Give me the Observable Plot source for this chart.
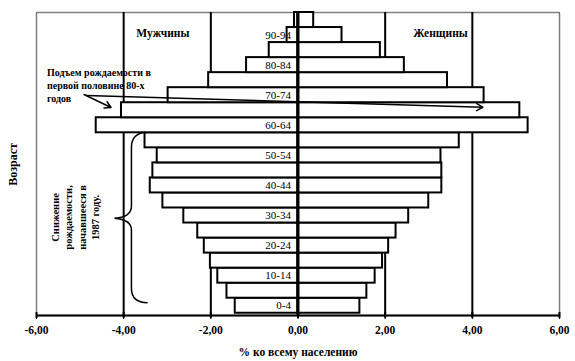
<!DOCTYPE html>
<html>
<head>
<meta charset="utf-8">
<script src="https://cdn.jsdelivr.net/npm/d3@7"></script>
<script src="https://cdn.jsdelivr.net/npm/@observablehq/plot@0.6"></script>
<style>
  html, body { margin: 0; padding: 0; background: #fff; }
</style>
</head>
<body>
<div id="chart"></div>
<script>
// Age groups from the youngest (bottom) to the oldest (top)
const ages = ["0-4","5-9","10-14","15-19","20-24","25-29","30-34","35-39","40-44","45-49",
              "50-54","55-59","60-64","65-69","70-74","75-79","80-84","85-89","90-94","95-99"];
// Share of total population, % (men negative, drawn to the left)
const men   = [-1.44,-1.63,-1.84,-2.01,-2.15,-2.30,-2.62,-3.10,-3.39,-3.33,
               -3.23,-3.51,-4.63,-4.05,-2.98,-2.05,-1.18,-0.66,-0.25,-0.08];
const women = [1.42,1.58,1.77,1.94,2.08,2.25,2.54,3.00,3.30,3.30,
               3.28,3.70,5.28,5.09,4.27,3.43,2.44,1.89,1.01,0.36];
const xTicks = [-6,-4,-2,0,2,4,6];
const gridX = [-4,-2,2,4];

const rows = ages.map((age, i) => ({i, age, men: men[i], women: women[i]}));
const yMin = -0.15, yMax = 20;

const serif = "'Liberation Serif', 'DejaVu Serif', serif";

const plot = Plot.plot({
  width: 575,
  height: 361,
  marginLeft: 36,
  marginRight: 16,
  marginTop: 12,
  marginBottom: 46,
  style: {fontFamily: serif, fontSize: "11.5px", fontWeight: "bold", background: "#fff", color: "#000"},
  x: {domain: [-6, 6], ticks: xTicks, tickFormat: d => d.toFixed(2).replace(".", ","), tickSize: 4, tickPadding: 6, label: null},
  y: {domain: [yMin, yMax], axis: null},
  marks: [
    Plot.frame({stroke: "#000", strokeDasharray: "1,1", strokeWidth: 1.5}),
    Plot.ruleX(gridX, {stroke: "#000", strokeWidth: 2}),
    Plot.rectX(rows, {x1: 0, x2: "men", y1: d => d.i, y2: d => d.i + 1, fill: "#fff", stroke: "#000", strokeWidth: 2}),
    Plot.rectX(rows, {x1: 0, x2: "women", y1: d => d.i, y2: d => d.i + 1, fill: "#fff", stroke: "#000", strokeWidth: 2}),
    Plot.ruleX([0], {stroke: "#000", strokeWidth: 3}),
    Plot.ruleY([yMin], {stroke: "#000", strokeWidth: 2}),
    Plot.ruleX(xTicks, {y1: yMin - 0.2, y2: yMin + 0.2, stroke: "#000", strokeWidth: 2}),
    Plot.text(rows.filter(d => d.i % 2 === 0), {x: 0, y: d => d.i + 0.5, text: "age", textAnchor: "end", dx: -7, fontWeight: "normal", fontSize: 11}),
    Plot.text(["Мужчины"], {x: -3.1, y: 18.6, text: d => d, fontSize: 11.5}),
    Plot.text(["Женщины"], {x: 3.27, y: 18.6, text: d => d, fontSize: 11.5}),
    Plot.text(["Подъем рождаемости в\nпервой половине 80-х\nгодов"], {x: -5.76, y: 15.2, text: d => d, textAnchor: "start", fontSize: 10, lineHeight: 1.3}),
    Plot.arrow([{x1: -4.91, y1: 14.55, x2: -4.29, y2: 13.68}, {x1: -4.86, y1: 14.48, x2: 4.24, y2: 13.7}],
      {x1: "x1", y1: "y1", x2: "x2", y2: "y2", stroke: "#000", strokeWidth: 1.5, headLength: 7}),
    Plot.text(["Снижение\nрождаемости,\nначавшееся в\n1987 году."], {x: -5.12, y: 6.37, text: d => d, rotate: -90, fontSize: 10.5, lineHeight: 1.25}),
    Plot.text(["Возраст"], {x: -6.54, y: 9.9, text: d => d, rotate: -90, fontSize: 12}),
    Plot.text(["% ко всему населению"], {x: 0, y: -2.6, text: d => d, fontSize: 11.5})
  ]
});

// Curly brace annotation in data coordinates, drawn through the plot's scales
const sx = plot.scale("x"), sy = plot.scale("y");
const X = v => sx.apply(v), Y = v => sy.apply(v);
const p = d3.path();
p.moveTo(X(-3.49), Y(12.0));
p.quadraticCurveTo(X(-3.81), Y(11.9), X(-3.81), Y(11.0));
p.lineTo(X(-3.81), Y(7.1));
p.quadraticCurveTo(X(-3.81), Y(6.35), X(-4.2), Y(6.29));
p.quadraticCurveTo(X(-3.81), Y(6.2), X(-3.81), Y(5.5));
p.lineTo(X(-3.81), Y(1.6));
p.quadraticCurveTo(X(-3.81), Y(0.7), X(-3.44), Y(0.66));
d3.select(plot).append("path")
  .attr("d", p.toString())
  .attr("fill", "none")
  .attr("stroke", "#000")
  .attr("stroke-width", 1.5);

document.getElementById("chart").appendChild(plot);
</script>
</body>
</html>
